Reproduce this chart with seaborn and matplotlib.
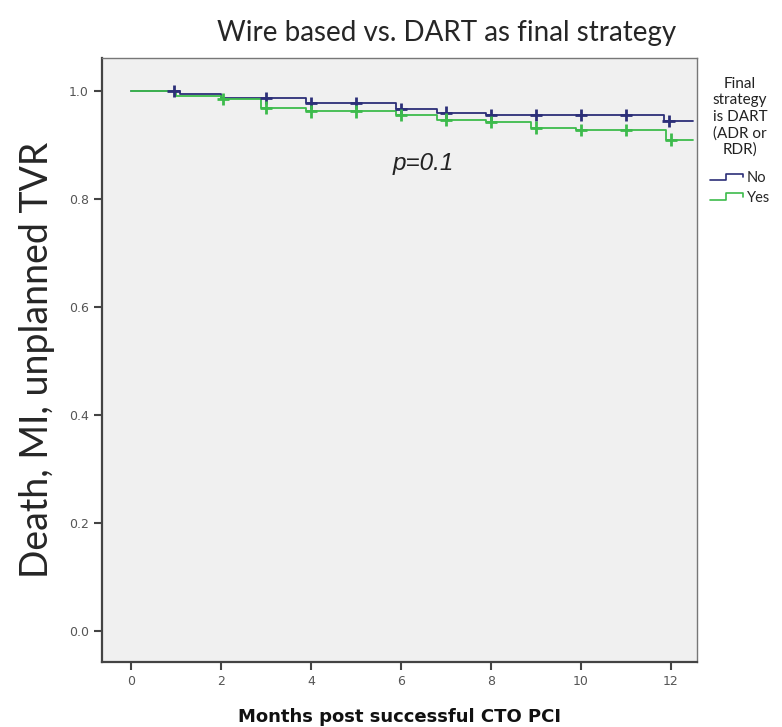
import numpy as np
import pandas as pd
import matplotlib
matplotlib.use('Agg')
import matplotlib.pyplot as plt
import seaborn as sns
from matplotlib.legend_handler import HandlerBase
from matplotlib.lines import Line2D

# Kaplan-Meier steps (months, event-free fraction)
no_times = [0, 1.1, 2.0, 3.9, 5.9, 6.8, 7.9, 11.85, 12.5]
no_surv = [1.0, 0.995, 0.987, 0.978, 0.966, 0.960, 0.955, 0.944, 0.944]
yes_times = [0, 1.0, 2.0, 2.9, 3.9, 5.9, 6.8, 7.9, 8.9, 9.9, 11.9, 12.5]
yes_surv = [1.0, 0.990, 0.985, 0.969, 0.962, 0.956, 0.947, 0.943, 0.932, 0.928, 0.910, 0.910]

# censoring ticks
no_censor = [0.95, 3, 4, 5, 6, 7, 8, 9, 10, 11, 11.95]
yes_censor = [2.05, 3, 4, 5, 6, 7, 8, 9, 10, 11, 12]

groups = ['No', 'Yes']
colors = {'No': '#2c2f78', 'Yes': '#3dbb4c'}


def step_value(times, surv, t):
    idx = np.searchsorted(times, t, side='right') - 1
    return np.array(surv)[idx]


curves = pd.concat([
    pd.DataFrame({'month': no_times, 'surv': no_surv, 'group': 'No'}),
    pd.DataFrame({'month': yes_times, 'surv': yes_surv, 'group': 'Yes'}),
])
marks = pd.concat([
    pd.DataFrame({'month': no_censor, 'surv': step_value(no_times, no_surv, no_censor), 'group': 'No'}),
    pd.DataFrame({'month': yes_censor, 'surv': step_value(yes_times, yes_surv, yes_censor), 'group': 'Yes'}),
])

sns.set_style('ticks')
fig = plt.figure(figsize=(7.82, 7.27), dpi=100)
ax = fig.add_axes([102 / 782, 1 - 662 / 727, (697 - 102) / 782, (662 - 58) / 727])
ax.set_facecolor('#f0f0f0')

sns.lineplot(data=curves, x='month', y='surv', hue='group', palette=colors,
             drawstyle='steps-post', estimator=None, sort=False, lw=1.3,
             legend=False, ax=ax)
sns.scatterplot(data=marks, x='month', y='surv', hue='group', palette=colors,
                marker='+', s=80, linewidth=2, legend=False, ax=ax, zorder=3)

ax.set_xlim(-0.64, 12.58)
ax.set_ylim(-0.057, 1.061)
ax.set_xticks(np.arange(0, 13, 2))
ax.set_yticks(np.arange(0, 1.01, 0.2))
ax.set_yticklabels([f'{v:.1f}' for v in np.arange(0, 1.01, 0.2)])
ax.tick_params(axis='both', direction='out', length=6, width=1.5, color='#444444',
               labelsize=9, labelcolor='#555555')
for side in ['left', 'bottom']:
    ax.spines[side].set_color('#444444')
    ax.spines[side].set_linewidth(1.6)
for side in ['top', 'right']:
    ax.spines[side].set_color('#777777')
    ax.spines[side].set_linewidth(1.0)

ax.set_xlabel('Months post successful CTO PCI', fontsize=13, fontweight='bold',
              family='Liberation Sans Narrow', labelpad=14, color='#111111')
ax.set_ylabel('Death, MI, unplanned TVR', fontsize=27, family='Lato', labelpad=10)
fig.text(447 / 782, 1 - 33 / 727, 'Wire based vs. DART as final strategy', fontsize=20,
         family='Lato', ha='center', va='center')

ax.text(6.5, 0.865, 'p=0.1', fontsize=17.5, style='italic', ha='center', va='center',
        family='Liberation Sans', color='#222222')


class StepHandler(HandlerBase):
    def create_artists(self, legend, orig_handle, xdescent, ydescent, width, height,
                       fontsize, trans):
        xs = np.array([0, 0.45, 0.45, 0.95, 0.95]) * width - xdescent
        ys = np.array([0.2, 0.2, 0.8, 0.8, 0.45]) * height - ydescent
        line = Line2D(xs, ys, color=orig_handle.get_color(), lw=1.2, transform=trans)
        return [line]


handles = [Line2D([], [], color=colors[g]) for g in groups]
leg = ax.legend(handles, groups, title='Final\nstrategy\nis DART\n(ADR or\nRDR)',
                loc='upper left', bbox_to_anchor=(1.005, 0.985), frameon=False,
                handler_map={Line2D: StepHandler()}, handlelength=2.4,
                handletextpad=0.1, labelspacing=0.4, borderaxespad=0.3,
                prop={'family': 'Lato', 'size': 10.5})
leg.get_title().set_fontfamily('Lato')
leg.get_title().set_fontsize(11)
leg.get_title().set_multialignment('center')
leg.get_title().set_linespacing(1.2)
leg.get_title().set_color('#222222')
leg._legend_box.align = 'center'
leg._legend_box.sep = 10

plt.savefig('out.png', dpi=100)
